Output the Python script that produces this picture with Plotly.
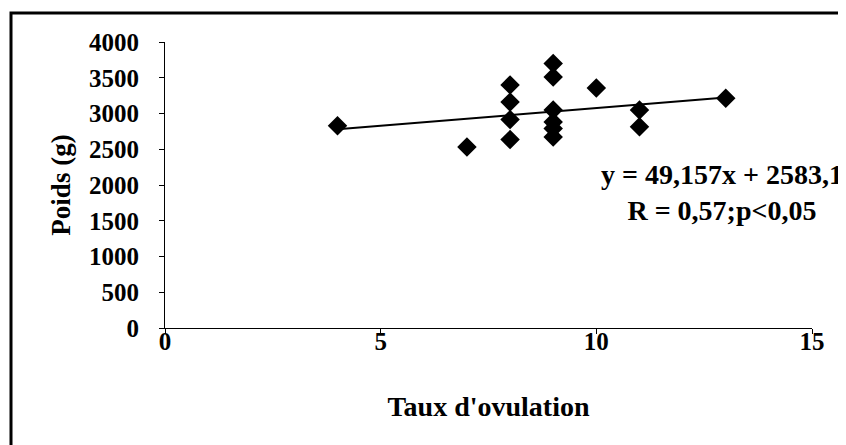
import plotly.graph_objects as go

# Data
taux_ovulation = [4, 7, 8, 8, 8, 8, 9, 9, 9, 9, 9, 9, 10, 11, 11, 13]
poids_g = [2830, 2530, 3400, 3160, 2915, 2635, 3700, 3510, 3050, 2880, 2790, 2670, 3357, 3050, 2815, 3215]

slope = 49.157
intercept = 2583.1
equation_text = "y = 49,157x + 2583,1"
stats_text = "R = 0,57;p<0,05"

x_ticks = [0, 5, 10, 15]
y_ticks = [0, 500, 1000, 1500, 2000, 2500, 3000, 3500, 4000]

FONT = "Liberation Serif"

x_fit = [min(taux_ovulation), max(taux_ovulation)]
y_fit = [slope * v + intercept for v in x_fit]

fig = go.Figure()
fig.add_trace(go.Scatter(
    x=x_fit, y=y_fit, mode="lines",
    line=dict(color="black", width=2),
    showlegend=False, hoverinfo="skip",
))
fig.add_trace(go.Scatter(
    x=taux_ovulation, y=poids_g, mode="markers",
    marker=dict(symbol="diamond", size=15, color="black"),
    showlegend=False,
))

OFF = 8  # page body margin offset
W, H = 846, 445
L, T = 165 - OFF, 42 - OFF
B = H - (328 - OFF)
R = W - (812 - OFF)
pw, ph = W - L - R, H - T - B

def px_to_paper_x(px):
    return (px - OFF - L) / pw

def px_to_paper_y(py):
    return (H - B - (py - OFF)) / ph

fig.update_layout(
    width=W, height=H,
    margin=dict(l=L, r=R, t=T, b=B, pad=0),
    paper_bgcolor="white", plot_bgcolor="white",
    font=dict(family=FONT, color="black", size=25),
    xaxis=dict(
        range=[0, 15], tickvals=x_ticks, ticktext=[str(v) for v in x_ticks],
        showgrid=False, zeroline=False, showline=True, linecolor="black", linewidth=1,
        ticks="outside", ticklen=5, tickcolor="black", ticklabelstandoff=-14,
        tickfont=dict(family=FONT, size=25, weight="bold"),
        title=dict(text="<b>Taux d'ovulation</b>", font=dict(family=FONT, size=28), standoff=42),
    ),
    yaxis=dict(
        range=[0, 4000], tickvals=y_ticks, ticktext=[str(v) for v in y_ticks],
        showgrid=False, zeroline=False, showline=True, linecolor="black", linewidth=1,
        ticks="outside", ticklen=5, tickcolor="black", ticklabelstandoff=15,
        tickfont=dict(family=FONT, size=25, weight="bold"),
        title=dict(text="<b>Poids (g)</b>", font=dict(family=FONT, size=27), standoff=10),
    ),
    annotations=[
        dict(x=px_to_paper_x(722), y=px_to_paper_y(193), xref="paper", yref="paper",
             text="<b>" + equation_text + "</b><br><b>" + stats_text + "</b>", showarrow=False,
             align="center",
             font=dict(family=FONT, size=28, color="black"), xanchor="center", yanchor="middle"),
    ],
    shapes=[
        dict(type="rect", xref="paper", yref="paper",
             x0=px_to_paper_x(11), x1=px_to_paper_x(870),
             y0=px_to_paper_y(470), y1=px_to_paper_y(13),
             line=dict(color="black", width=3), fillcolor="rgba(0,0,0,0)", layer="above"),
    ],
)

fig.write_html("out.html")
